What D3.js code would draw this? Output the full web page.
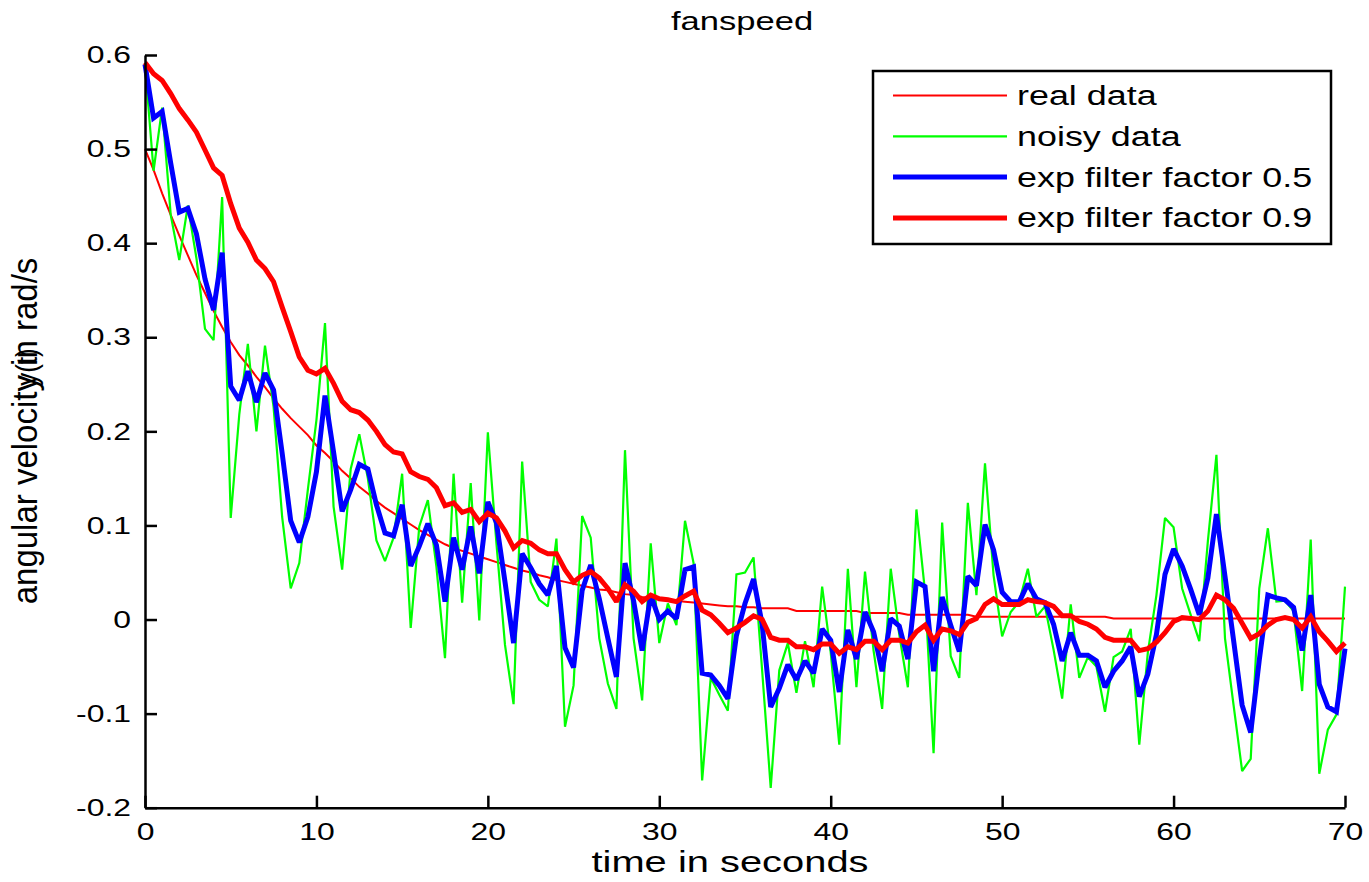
<!DOCTYPE html>
<html>
<head>
<meta charset="utf-8">
<script src="https://cdn.jsdelivr.net/npm/d3@7"></script>
<style>
  body { margin: 0; background: #fff; }
  svg { display: block; }
  text { font-family: "Liberation Sans", Arial, Helvetica, sans-serif; fill: #000; }
</style>
</head>
<body>
<svg id="drawing_region"></svg>
<script>
// sample times (s), one sample every 0.5 s
const time = [
  0,0.5,1,1.5,2,2.5,3,3.5,4,4.5,5,5.5,6,6.5,7,7.5,8,8.5,9,9.5,
  10,10.5,11,11.5,12,12.5,13,13.5,14,14.5,15,15.5,16,16.5,17,17.5,18,18.5,19,19.5,
  20,20.5,21,21.5,22,22.5,23,23.5,24,24.5,25,25.5,26,26.5,27,27.5,28,28.5,29,29.5,
  30,30.5,31,31.5,32,32.5,33,33.5,34,34.5,35,35.5,36,36.5,37,37.5,38,38.5,39,39.5,
  40,40.5,41,41.5,42,42.5,43,43.5,44,44.5,45,45.5,46,46.5,47,47.5,48,48.5,49,49.5,
  50,50.5,51,51.5,52,52.5,53,53.5,54,54.5,55,55.5,56,56.5,57,57.5,58,58.5,59,59.5,
  60,60.5,61,61.5,62,62.5,63,63.5,64,64.5,65,65.5,66,66.5,67,67.5,68,68.5,69,69.5,
  70
];

const realData = [
  0.500,0.478,0.453,0.430,0.408,0.387,0.366,0.347,0.328,0.311,
  0.295,0.281,0.270,0.258,0.247,0.235,0.224,0.214,0.205,0.196,
  0.185,0.177,0.168,0.158,0.150,0.141,0.134,0.126,0.119,0.113,
  0.107,0.101,0.095,0.090,0.085,0.080,0.076,0.073,0.070,0.067,
  0.064,0.061,0.058,0.055,0.052,0.050,0.047,0.045,0.042,0.040,
  0.038,0.036,0.034,0.032,0.031,0.029,0.027,0.026,0.024,0.023,
  0.022,0.021,0.020,0.019,0.018,0.017,0.016,0.015,0.014,0.014,
  0.013,0.013,0.012,0.012,0.012,0.012,0.009,0.009,0.009,0.009,
  0.009,0.009,0.009,0.009,0.007,0.007,0.007,0.007,0.007,0.005,
  0.005,0.005,0.005,0.005,0.005,0.005,0.005,0.003,0.003,0.003,
  0.003,0.003,0.003,0.003,0.003,0.003,0.003,0.003,0.003,0.003,
  0.003,0.003,0.003,0.001,0.001,0.001,0.001,0.001,0.001,0.001,
  0.001,0.001,0.001,0.001,0.001,0.001,0.001,0.001,0.001,0.001,
  0.001,0.001,0.001,0.001,0.001,0.001,0.001,0.001,0.001,0.001,
  0.001
];

const noisyData = [
  0.590,0.477,0.544,0.430,0.382,0.440,0.384,0.309,0.297,0.449,
  0.108,0.218,0.293,0.200,0.291,0.226,0.109,0.033,0.060,0.138,
  0.212,0.315,0.120,0.053,0.160,0.197,0.150,0.084,0.062,0.087,
  0.155,-0.009,0.099,0.127,0.056,-0.041,0.155,0.018,0.145,-0.001,
  0.199,0.081,-0.027,-0.090,0.168,0.040,0.021,0.014,0.086,-0.114,
  -0.070,0.110,0.087,-0.020,-0.068,-0.095,0.180,-0.020,-0.086,0.081,
  -0.025,0.017,-0.006,0.105,0.060,-0.171,-0.062,-0.080,-0.097,0.048,
  0.050,0.066,-0.054,-0.179,-0.054,-0.025,-0.078,-0.023,-0.072,0.035,
  -0.035,-0.133,0.054,-0.072,0.051,-0.033,-0.095,0.054,-0.016,-0.072,
  0.117,0.030,-0.142,0.103,-0.039,-0.062,0.124,0.026,0.166,0.047,
  -0.018,0.008,0.019,0.054,0.003,0.014,-0.032,-0.084,0.016,-0.062,
  -0.040,-0.050,-0.098,-0.040,-0.034,-0.010,-0.133,-0.035,0.026,0.108,
  0.098,0.033,0.005,-0.023,0.083,0.175,-0.020,-0.091,-0.161,-0.148,
  0.033,0.097,0.019,0.020,0.009,-0.076,0.085,-0.164,-0.117,-0.101,
  0.035
];

const filter05 = [
  0.590,0.533,0.540,0.485,0.433,0.437,0.410,0.362,0.329,0.390,
  0.248,0.233,0.264,0.231,0.262,0.244,0.177,0.105,0.082,0.109,
  0.157,0.238,0.178,0.115,0.138,0.165,0.160,0.122,0.092,0.089,
  0.122,0.057,0.078,0.102,0.079,0.019,0.087,0.053,0.099,0.049,
  0.125,0.103,0.040,-0.025,0.070,0.055,0.038,0.026,0.057,-0.030,
  -0.051,0.031,0.058,0.022,-0.020,-0.061,0.060,0.020,-0.033,0.026,
  0.000,0.009,0.001,0.053,0.056,-0.057,-0.059,-0.070,-0.084,-0.017,
  0.017,0.043,-0.005,-0.093,-0.073,-0.048,-0.064,-0.044,-0.057,-0.010,
  -0.022,-0.077,-0.011,-0.042,0.008,-0.013,-0.055,0.001,-0.007,-0.042,
  0.040,0.035,-0.055,0.024,-0.006,-0.034,0.046,0.036,0.101,0.074,
  0.029,0.019,0.019,0.038,0.022,0.018,-0.005,-0.044,-0.014,-0.038,
  -0.038,-0.044,-0.072,-0.055,-0.044,-0.029,-0.082,-0.058,-0.016,0.048,
  0.075,0.057,0.032,0.005,0.044,0.112,0.046,-0.022,-0.091,-0.120,
  -0.043,0.026,0.023,0.021,0.013,-0.033,0.026,-0.069,-0.093,-0.098,
  -0.031
];

const filter09 = [
  0.592,0.580,0.573,0.559,0.543,0.531,0.518,0.499,0.480,0.472,
  0.442,0.416,0.401,0.382,0.373,0.359,0.332,0.306,0.279,0.265,
  0.261,0.267,0.251,0.232,0.223,0.220,0.212,0.200,0.186,0.178,
  0.176,0.157,0.152,0.149,0.140,0.121,0.124,0.114,0.117,0.104,
  0.113,0.108,0.094,0.076,0.084,0.081,0.074,0.070,0.070,0.053,
  0.040,0.047,0.051,0.044,0.033,0.019,0.037,0.030,0.019,0.026,
  0.022,0.021,0.019,0.025,0.030,0.010,0.005,-0.004,-0.014,-0.009,
  -0.003,0.004,0.000,-0.019,-0.022,-0.022,-0.029,-0.029,-0.032,-0.026,
  -0.026,-0.036,-0.029,-0.032,-0.023,-0.023,-0.032,-0.022,-0.022,-0.025,
  -0.013,-0.006,-0.022,-0.010,-0.012,-0.016,-0.003,0.001,0.016,0.022,
  0.016,0.016,0.016,0.021,0.019,0.018,0.014,0.004,0.004,-0.002,
  -0.005,-0.010,-0.019,-0.022,-0.022,-0.022,-0.033,-0.031,-0.024,-0.014,
  -0.002,0.002,0.001,0.000,0.009,0.026,0.021,0.012,-0.004,-0.020,
  -0.015,-0.006,0.000,0.002,0.000,-0.009,0.003,-0.013,-0.023,-0.034,
  -0.025
];

const xTicks = [0, 10, 20, 30, 40, 50, 60, 70];
const yTicks = [-0.2, -0.1, 0, 0.1, 0.2, 0.3, 0.4, 0.5, 0.6];

const seriesNames = ["real data", "noisy data", "exp filter factor 0.5", "exp filter factor 0.9"];
const seriesColors = ["#ff0000", "#00ff00", "#0000ff", "#ff0000"];
const seriesWidths = [2, 2.2, 5, 5];

const config = {
    width: 1369,
    height: 882,
    margin: {top: 55, right: 24, bottom: 74.3, left: 145}
};
const SX = 1.33; // the source figure is stretched horizontally

const svg = d3.select('#drawing_region')
    .attr('width', config.width)
    .attr('height', config.height);

const inner_width = config.width - config.margin.left - config.margin.right;
const inner_height = config.height - config.margin.top - config.margin.bottom;

const chart = svg.append('g')
    .attr('transform', `translate(${config.margin.left}, ${config.margin.top})`);

const xscale = d3.scaleLinear().domain([0, 70]).range([0, inner_width]);
const yscale = d3.scaleLinear().domain([-0.2, 0.6]).range([inner_height, 0]);

// stretched text helper
function label(g, x, y, str, size, anchor, rotate, sx) {
    return g.append('text')
        .attr('transform', `translate(${x},${y}) scale(${sx || SX},1)` + (rotate ? ' rotate(-90)' : ''))
        .attr('text-anchor', anchor)
        .attr('font-size', size)
        .text(str);
}

// series
const line = d3.line()
    .x((d, i) => xscale(time[i]))
    .y(d => yscale(d));

[realData, noisyData, filter05, filter09].forEach((s, i) => {
    chart.append('path')
        .attr('d', line(s))
        .attr('fill', 'none')
        .attr('stroke', seriesColors[i])
        .attr('stroke-width', seriesWidths[i])
        .attr('stroke-linejoin', 'miter')
        .attr('stroke-miterlimit', 2);
});

// axes (MATLAB style, ticks inward)
const xaxis_group = chart.append('g')
    .attr('transform', `translate(0, ${inner_height})`)
    .call(d3.axisBottom(xscale).tickValues(xTicks).tickFormat(d3.format('d'))
        .tickSizeInner(-12).tickSizeOuter(0).tickPadding(15));

const yaxis_group = chart.append('g')
    .call(d3.axisLeft(yscale).tickValues(yTicks)
        .tickFormat(d => d === 0 ? '0' : d.toFixed(1))
        .tickSizeInner(-12).tickSizeOuter(0).tickPadding(10.5));

[xaxis_group, yaxis_group].forEach(g => {
    g.attr('font-size', null).attr('font-family', null);
    g.select('.domain').attr('stroke', '#000').attr('stroke-width', 2.5);
    g.selectAll('.tick line').attr('stroke', '#000').attr('stroke-width', 2.5);
    g.selectAll('.tick text')
        .attr('font-size', 24)
        .attr('fill', '#000')
        .attr('transform', `scale(${SX},1)`);
});

// title and axis labels
label(svg, 742, 30, 'fanspeed', 26, 'middle');
label(svg, 730, 872, 'time in seconds', 30, 'middle');
label(svg, 37, 431, 'angular velocity in rad/s', 33, 'middle', true, 1.04);
label(svg, 37, 367, 'y(t)', 26, 'middle', true, 1.1);

// legend
const legend = svg.append('g');
legend.append('rect')
    .attr('x', 873).attr('y', 71)
    .attr('width', 458).attr('height', 173)
    .attr('fill', '#fff')
    .attr('stroke', '#000')
    .attr('stroke-width', 2.5);

seriesNames.forEach((name, i) => {
    const ly = 95.5 + i * 40.8;
    legend.append('line')
        .attr('x1', 893).attr('x2', 1007)
        .attr('y1', ly).attr('y2', ly)
        .attr('stroke', seriesColors[i])
        .attr('stroke-width', seriesWidths[i]);
    label(legend, 1017, ly + 9.5, name, 27, 'start');
});
</script>
</body>
</html>
